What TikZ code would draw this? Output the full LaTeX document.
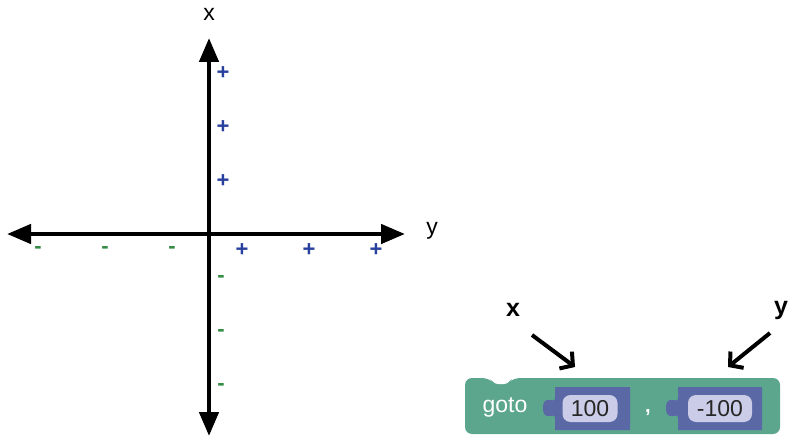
\documentclass[tikz,border=0pt]{standalone}
\usepackage{fontspec}
\setmainfont{Liberation Sans}
\usepackage{tikz}
\usetikzlibrary{arrows.meta, positioning, calc}
\definecolor{blockgreen}{RGB}{91, 166, 141}
\definecolor{blockblue}{RGB}{91, 104, 166}
\definecolor{fieldfill}{RGB}{203, 205, 232}
\definecolor{posblue}{RGB}{40, 64, 158}
\definecolor{neggreen}{RGB}{52, 140, 70}

\begin{document}
\begin{tikzpicture}[
    x=1pt, y=-1pt,
    axis/.style={line width=4.5pt, {Triangle[length=24pt,width=19pt]}-{Triangle[length=24pt,width=19pt]}},
    pointer/.style={line width=4pt, -{Straight Barb[length=9pt,width=21pt]}},
    axlabel/.style={font=\fontsize{23}{23}\selectfont, inner sep=0pt},
    blocklabel/.style={font=\bfseries\fontsize{25}{25}\selectfont, inner sep=0pt},
    plusmark/.style={text=posblue, font=\bfseries\fontsize{22}{22}\selectfont, inner sep=0pt},
    minusmark/.style={text=neggreen, font=\bfseries\fontsize{22}{22}\selectfont, inner sep=0pt},
    field/.style={rectangle, rounded corners=8pt, fill=fieldfill, minimum height=27pt, inner sep=0pt, text=black!85, font=\fontsize{23}{23}\selectfont}
]
    \useasboundingbox (0,0) rectangle (790,438);

    % axes
    \coordinate (origin) at (209,234);
    \coordinate (top) at (209,38);
    \coordinate (bottom) at (209,436);
    \coordinate (left) at (7,234);
    \coordinate (right) at (405,234);
    \draw[axis] (bottom) -- (top);
    \draw[axis] (left) -- (right);
    \node[axlabel] (xaxis) at (209,14) {x};
    \node[axlabel] (yaxis) at (432,231) {y};

    % signs
    \foreach \v [count=\i] in {73,127,181} {
        \node[plusmark] (xpos\i) at (223,\v) {+};
    }
    \foreach \v [count=\i] in {279,333,387} {
        \node[minusmark] (xneg\i) at (221,\v) {-};
    }
    \foreach \u [count=\i] in {242,309,376} {
        \node[plusmark] (ypos\i) at (\u,250) {+};
    }
    \foreach \u [count=\i] in {38,105,172} {
        \node[minusmark] (yneg\i) at (\u,250) {-};
    }

    % goto block
    \fill[blockgreen, rounded corners=7pt] (465,378) -- (489,378) -- (495,384) -- (507,384) -- (513,378)
        -- (780,378) -- (780,434) -- (465,434) -- cycle;
    \fill[white, rounded corners=3pt] (489,377) -- (495,384) -- (507,384) -- (513,377) -- cycle;
    \node[font=\fontsize{23}{23}\selectfont, text=white, inner sep=0pt] (goto) at (505,407) {goto};

    \foreach \l/\r in {555/630, 678/762} {
        \fill[blockblue] (\l,387) -- (\l,398)
            .. controls (\l,405) and ({\l-12},393) .. ({\l-12},408)
            .. controls ({\l-12},423) and (\l,411) .. (\l,418)
            -- (\l,430) -- (\r,430) -- (\r,387) -- cycle;
    }
    \node[field, minimum width=55pt] (xval) at (590,408.5) {100};
    \node[field, minimum width=64pt] (yval) at (720,408.5) {-100};
    \node[font=\bfseries\fontsize{20}{20}\selectfont, text=white, inner sep=0pt, anchor=base] (comma) at (648,412) {,};

    % pointers
    \node[blocklabel] (xarg) at (513,310) {x};
    \node[blocklabel] (yarg) at (781,310) {y};
    \coordinate (xstart) at (532,335);
    \coordinate (xend) at (575,367);
    \coordinate (ystart) at (770,333);
    \coordinate (yend) at (728,367);
    \draw[pointer] (xstart) -- (xend);
    \draw[pointer] (ystart) -- (yend);

\end{tikzpicture}
\end{document}
